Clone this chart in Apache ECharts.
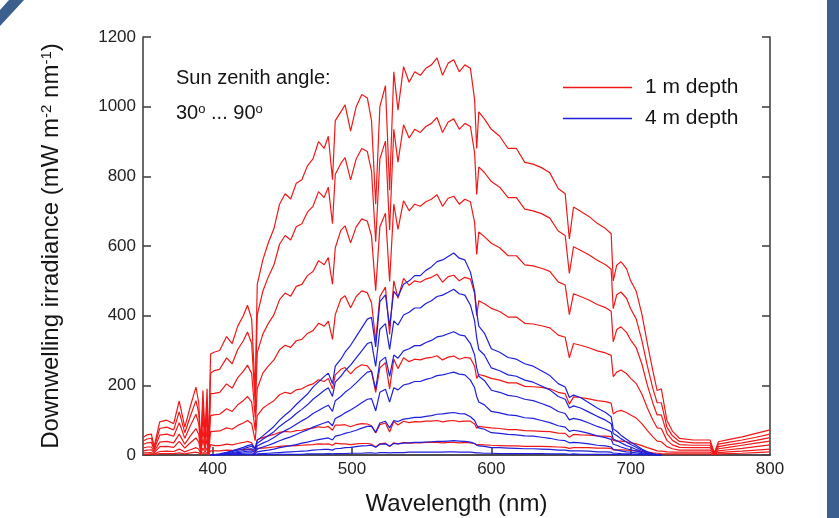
<!DOCTYPE html>
<html>
<head>
<meta charset="utf-8">
<title>Downwelling irradiance</title>
<script src="https://cdn.jsdelivr.net/npm/echarts@6/dist/echarts.min.js"></script>
<style>
  html, body { margin: 0; padding: 0; background: #fff; }
  #chart { width: 839px; height: 518px; }
</style>
</head>
<body>
<div id="chart"></div>
<script>
'use strict';

// shared wavelength grid (nm)
var wavelength = [
  350, 353, 356, 358, 362, 367, 372, 376, 380, 384, 388, 390, 391.5, 393, 394.5, 396, 397, 398.5,
  401, 405, 410, 414, 418, 422, 425, 428, 430.5, 432,
  436, 440, 444, 448, 452, 456, 460, 464, 468, 472, 476, 480, 483, 486, 488,
  492, 495, 499, 503, 507, 511, 514, 517, 520, 524, 527, 530, 533, 537, 541, 545, 549, 553, 557, 561, 565, 569, 573, 577, 581, 585, 588, 589.5,
  591, 595, 600, 606, 612, 618, 624, 630, 636, 642, 648, 653, 656, 659, 664, 670, 676, 682, 686, 687.5,
  690, 693, 697, 700, 704, 708, 712, 716, 719, 722, 726, 730, 735, 745, 757, 760, 763, 770, 780, 790, 800
];

// 1 m depth, sun zenith 30° ... 90°
var red1 = [
  50, 58, 60, 25, 95, 100, 90, 155, 80, 140, 195, 150, 30, 185, 60, 190, 5, 290,
  295, 300, 340, 320, 370, 400, 430, 390, 180, 490,
  560, 610, 650, 720, 750, 735, 780, 790, 830, 850, 900, 880, 915, 790, 960,
  985, 1005, 930, 1000, 1035, 1025, 960, 720, 1000, 1060, 760, 1100, 990, 1115, 1070, 1100, 1090, 1110, 1120, 1140, 1090, 1125, 1135, 1100, 1120, 1110, 1020, 880,
  985, 965, 935, 915, 880, 880, 840, 835, 825, 810, 765, 750, 620, 712, 700, 685, 665, 650, 635, 500,
  545, 555, 535, 500, 470, 405, 320, 240, 185, 190, 100, 68, 48, 43, 43, 6, 38, 44, 52, 62, 72
];
var red2 = [
  40, 46, 48, 20, 76, 80, 72, 124, 64, 112, 156, 120, 24, 148, 48, 152, 4, 235,
  242, 246, 279, 262, 303, 328, 353, 320, 148, 402,
  470, 512, 546, 605, 630, 617, 655, 664, 697, 714, 756, 739, 769, 664, 806,
  837, 854, 790, 850, 880, 871, 816, 612, 850, 901, 646, 935, 841, 948, 910, 935, 926, 943, 952, 969, 926, 956, 965, 935, 952, 943, 867, 748,
  827, 811, 785, 769, 739, 739, 706, 701, 693, 680, 643, 630, 521, 598, 588, 575, 559, 546, 533, 420,
  460, 468, 450, 420, 390, 330, 255, 190, 150, 150, 80, 55, 39, 35, 35, 5, 31, 36, 43, 51, 60
];
var red3 = [
  30, 35, 36, 15, 57, 60, 54, 93, 48, 84, 117, 90, 18, 111, 36, 114, 3, 176,
  177, 180, 204, 192, 222, 240, 258, 234, 108, 294,
  347, 378, 403, 446, 465, 456, 484, 490, 515, 527, 558, 546, 567, 490, 595,
  645, 658, 609, 655, 678, 671, 629, 472, 655, 694, 498, 720, 648, 730, 701, 720, 714, 727, 734, 747, 714, 737, 743, 720, 734, 727, 668, 576,
  640, 627, 608, 595, 572, 572, 546, 543, 536, 527, 497, 488, 403, 463, 455, 445, 432, 423, 413, 325,
  360, 368, 352, 330, 308, 262, 200, 148, 115, 115, 62, 42, 30, 28, 28, 4, 24, 29, 35, 42, 50
];
var red4 = [
  20, 23, 23, 10, 37, 39, 35, 60, 31, 55, 76, 59, 12, 72, 23, 74, 2, 113,
  115, 117, 133, 125, 144, 156, 168, 152, 70, 191,
  235, 256, 273, 302, 315, 309, 328, 332, 349, 357, 378, 370, 384, 332, 403,
  448, 457, 423, 455, 471, 466, 437, 328, 455, 482, 346, 500, 450, 507, 487, 500, 496, 505, 510, 519, 496, 512, 516, 500, 510, 505, 464, 400,
  443, 434, 421, 412, 396, 396, 378, 376, 371, 365, 344, 338, 279, 320, 315, 308, 299, 293, 286, 225,
  238, 244, 234, 220, 205, 175, 135, 100, 78, 76, 42, 29, 22, 21, 21, 3, 18, 22, 28, 34, 40
];
var red5 = [
  12, 14, 15, 6, 24, 25, 22, 39, 20, 35, 49, 37, 8, 46, 15, 47, 1, 67,
  68, 69, 78, 74, 85, 92, 99, 90, 41, 113,
  134, 146, 156, 173, 180, 176, 187, 190, 199, 204, 216, 211, 220, 190, 230,
  246, 251, 233, 250, 259, 256, 240, 180, 250, 265, 190, 275, 248, 279, 268, 275, 273, 278, 280, 285, 273, 281, 284, 275, 280, 278, 255, 220,
  231, 227, 220, 215, 207, 207, 197, 196, 194, 190, 180, 176, 146, 167, 165, 161, 156, 153, 149, 118,
  125, 128, 122, 115, 106, 90, 70, 52, 40, 38, 24, 18, 14, 14, 14, 2, 12, 15, 19, 24, 29
];
var red6 = [
  6, 6, 7, 3, 10, 11, 10, 17, 9, 15, 21, 17, 3, 20, 7, 21, 1, 30,
  27, 27, 31, 29, 33, 36, 39, 35, 16, 44,
  50, 55, 59, 65, 68, 66, 70, 71, 75, 77, 81, 79, 82, 71, 86,
  86, 87, 81, 87, 90, 89, 84, 63, 87, 92, 66, 96, 86, 97, 93, 96, 95, 97, 97, 99, 95, 98, 99, 96, 97, 97, 89, 77,
  82, 80, 78, 76, 73, 73, 70, 69, 68, 67, 63, 62, 51, 59, 58, 57, 55, 54, 53, 42,
  40, 40, 38, 35, 32, 27, 21, 16, 12, 11, 9, 8, 8, 8, 8, 1, 7, 9, 11, 14, 17
];
var red7 = [
  2, 2, 3, 1, 4, 4, 4, 6, 3, 6, 8, 6, 1, 7, 2, 8, 0, 12,
  12, 12, 14, 13, 15, 16, 17, 16, 7, 19,
  20, 21, 23, 25, 26, 26, 27, 28, 29, 30, 32, 31, 32, 28, 34,
  32, 32, 30, 32, 33, 33, 31, 23, 32, 34, 24, 35, 32, 36, 34, 35, 35, 36, 36, 36, 35, 36, 36, 35, 36, 35, 33, 28,
  30, 29, 28, 27, 26, 26, 25, 25, 25, 24, 23, 22, 19, 21, 21, 21, 20, 20, 19, 15,
  15, 15, 14, 13, 12, 10, 8, 6, 5, 4, 3, 3, 3, 3, 3, 0, 3, 4, 5, 7, 9
];

// 4 m depth, from 398.5 nm to 722 nm (grid index 17 on)
var blueStart = 17;
var blue1 = [
  0,
  1, 3, 8, 12, 17, 22, 27, 30, 20, 42,
  55, 68, 82, 100, 115, 128, 145, 160, 175, 195, 210, 225, 235, 205, 255,
  275, 295, 315, 340, 365, 390, 395, 310, 440, 460, 370, 470, 455, 490, 500, 515, 515, 530, 540, 555, 560, 570, 580, 565, 560, 525, 470, 410,
  370, 350, 305, 295, 280, 275, 262, 255, 242, 228, 205, 195, 165, 172, 165, 150, 135, 122, 110, 75,
  68, 57, 45, 37, 27, 17, 9, 4, 1, 0
];
var blue2 = [
  0,
  1, 2, 6, 10, 14, 18, 22, 25, 16, 34,
  45, 56, 67, 82, 94, 105, 119, 131, 144, 160, 172, 185, 193, 168, 209,
  226, 242, 258, 279, 299, 320, 324, 254, 361, 377, 303, 385, 373, 402, 410, 422, 422, 435, 443, 455, 459, 467, 476, 463, 459, 430, 385, 336,
  303, 287, 250, 242, 230, 226, 215, 209, 198, 187, 168, 160, 135, 141, 135, 123, 111, 100, 90, 62,
  56, 47, 37, 30, 22, 14, 7, 3, 1, 0
];
var blue3 = [
  0,
  1, 2, 5, 7, 10, 13, 16, 18, 12, 26,
  34, 41, 50, 61, 70, 78, 88, 98, 107, 119, 128, 137, 143, 125, 156,
  168, 180, 192, 207, 223, 238, 241, 189, 268, 281, 226, 287, 278, 299, 305, 314, 314, 323, 329, 339, 342, 348, 354, 345, 342, 320, 287, 250,
  226, 214, 186, 180, 171, 168, 160, 156, 148, 139, 125, 119, 101, 105, 101, 92, 82, 74, 67, 46,
  41, 35, 27, 23, 16, 10, 5, 2, 1, 0
];
var blue4 = [
  0,
  0, 1, 3, 5, 7, 9, 11, 12, 8, 17,
  23, 28, 34, 41, 47, 52, 59, 66, 72, 80, 86, 92, 96, 84, 105,
  113, 121, 129, 139, 150, 160, 162, 127, 180, 189, 152, 193, 187, 201, 205, 211, 211, 217, 221, 228, 230, 234, 238, 232, 230, 215, 193, 168,
  152, 144, 125, 121, 115, 113, 107, 105, 99, 93, 84, 80, 68, 71, 68, 62, 55, 50, 45, 31,
  28, 23, 18, 15, 11, 7, 4, 2, 0, 0
];
var blue5 = [
  0,
  0, 1, 2, 3, 4, 5, 6, 6, 4, 9,
  12, 14, 17, 21, 24, 27, 30, 34, 37, 41, 44, 47, 49, 43, 54,
  58, 62, 66, 71, 77, 82, 83, 65, 92, 97, 78, 99, 96, 103, 105, 108, 108, 111, 113, 117, 118, 120, 122, 119, 118, 110, 99, 86,
  78, 74, 64, 62, 59, 58, 55, 54, 51, 48, 43, 41, 35, 36, 35, 32, 28, 26, 23, 16,
  14, 12, 9, 8, 6, 4, 2, 1, 0, 0
];
var blue6 = [
  0,
  0, 0, 1, 1, 1, 2, 2, 2, 1, 3,
  4, 5, 6, 7, 8, 9, 10, 11, 12, 14, 15, 16, 16, 14, 18,
  19, 21, 22, 24, 26, 27, 28, 22, 31, 32, 26, 33, 32, 34, 35, 36, 36, 37, 38, 39, 39, 40, 41, 40, 39, 37, 33, 29,
  26, 25, 21, 21, 20, 19, 18, 18, 17, 16, 14, 14, 12, 12, 12, 11, 9, 9, 8, 5,
  5, 4, 3, 3, 2, 1, 1, 0, 0, 0
];
var blue7 = [
  0,
  0, 0, 0, 0, 0, 0, 0, 0, 0, 1,
  1, 1, 1, 2, 2, 2, 2, 2, 3, 3, 3, 3, 4, 3, 4,
  4, 4, 5, 5, 5, 6, 6, 5, 7, 7, 6, 7, 7, 7, 8, 8, 8, 8, 8, 8, 8, 9, 9, 8, 8, 8, 7, 6,
  6, 5, 5, 4, 4, 4, 4, 4, 4, 3, 3, 3, 2, 3, 2, 2, 2, 2, 2, 1,
  1, 1, 1, 1, 0, 0, 0, 0, 0, 0
];

var xLabels = [400, 500, 600, 700, 800];
var xTicks = [400, 500, 600, 700];

var font = "'Liberation Sans', Arial, sans-serif";
var frameColor = '#444';
var textColor = '#151515';
var redColor = '#f01818';
var blueColor = '#1f1fdc';

function points(values, offset) {
  var out = [];
  for (var i = 0; i < values.length; i++) {
    out.push([wavelength[i + offset], values[i]]);
  }
  return out;
}

function lineSeries(name, color, values, offset) {
  return {
    name: name,
    type: 'line',
    data: points(values, offset),
    symbol: 'none',
    silent: true,
    lineStyle: { color: color, width: 1.2 },
    itemStyle: { color: color }
  };
}

var series = [];
[red1, red2, red3, red4, red5, red6, red7].forEach(function (v) {
  series.push(lineSeries('1 m depth', redColor, v, 0));
});
[blue1, blue2, blue3, blue4, blue5, blue6, blue7].forEach(function (v) {
  series.push(lineSeries('4 m depth', blueColor, v, blueStart));
});

var chart = echarts.init(document.getElementById('chart'), null, { renderer: 'canvas' });

var option = {
  backgroundColor: '#fff',
  animation: false,
  textStyle: { fontFamily: font },
  grid: { left: 143, right: 69, top: 37, bottom: 63, outerBoundsMode: 'none', containLabel: false },
  legend: {
    orient: 'vertical',
    left: 558,
    top: 72,
    icon: 'rect',
    itemWidth: 69,
    itemHeight: 1.6,
    itemGap: 10,
    selectedMode: false,
    data: ['1 m depth', '4 m depth'],
    textStyle: { fontFamily: font, fontSize: 21, color: textColor, padding: [0, 0, 0, 8] }
  },
  xAxis: [{
    type: 'value',
    min: 350,
    max: 800,
    axisLine: { lineStyle: { color: frameColor, width: 1.6 } },
    axisTick: { inside: true, length: 8, customValues: xTicks, lineStyle: { color: frameColor, width: 1.6 } },
    axisLabel: { customValues: xLabels, fontSize: 17, color: '#222', margin: 6 },
    splitLine: { show: false },
    name: 'Wavelength (nm)',
    nameLocation: 'middle',
    nameGap: 37,
    nameTextStyle: { fontSize: 24, color: textColor }
  }, {
    type: 'value',
    position: 'top',
    min: 350,
    max: 800,
    axisLine: { show: true, lineStyle: { color: frameColor, width: 1.6 } },
    axisTick: { show: false },
    axisLabel: { show: false },
    splitLine: { show: false }
  }],
  yAxis: [{
    type: 'value',
    min: 0,
    max: 1200,
    interval: 200,
    axisLine: { show: true, lineStyle: { color: frameColor, width: 1.6 } },
    axisTick: { show: true, inside: true, length: 8, lineStyle: { color: frameColor, width: 1.6 } },
    axisLabel: {
      fontSize: 17, color: '#222', margin: 7,
      formatter: function (v) { return String(v); }
    },
    splitLine: { show: false },
    name: 'Downwelling irradiance (mW m{sup|-2} nm{sup|-1})',
    nameLocation: 'middle',
    nameGap: 80,
    nameTextStyle: {
      fontSize: 24,
      color: textColor,
      rich: { sup: { fontSize: 15, verticalAlign: 'top', color: textColor } }
    }
  }, {
    type: 'value',
    position: 'right',
    min: 0,
    max: 1200,
    interval: 200,
    axisLine: { show: true, lineStyle: { color: frameColor, width: 1.6 } },
    axisTick: { show: true, inside: true, length: 8, lineStyle: { color: frameColor, width: 1.6 } },
    axisLabel: { show: false },
    splitLine: { show: false }
  }],
  graphic: [
    { type: 'polygon', shape: { points: [[9, 0], [24, 0], [0, 26], [0, 10]] }, style: { fill: '#3b5f8e' } },
    { type: 'rect', shape: { x: 827, y: 0, width: 12, height: 518 }, style: { fill: '#3b5f8e' } },
    {
      type: 'text', x: 176, y: 78,
      style: { text: 'Sun zenith angle:', fontFamily: font, fontSize: 20, fill: textColor, verticalAlign: 'middle' }
    },
    {
      type: 'text', x: 176, y: 113,
      style: {
        text: '30{sup|o} ... 90{sup|o}',
        fontFamily: font, fontSize: 20, fill: textColor, verticalAlign: 'middle',
        rich: { sup: { fontSize: 13, verticalAlign: 'top', fontFamily: font, fill: textColor } }
      }
    }
  ],
  series: series
};

chart.setOption(option);
</script>
</body>
</html>
